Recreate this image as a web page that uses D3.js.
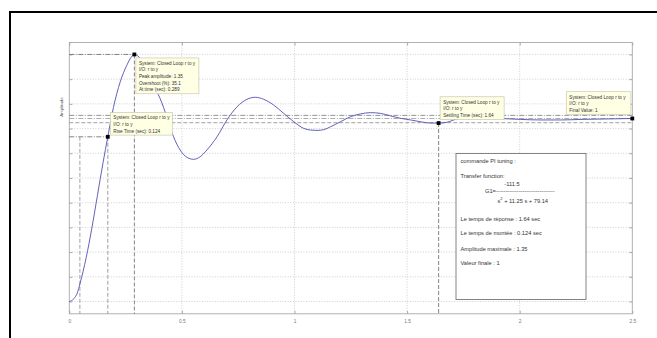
<!DOCTYPE html>
<html>
<head>
<meta charset="utf-8">
<script src="https://cdn.jsdelivr.net/npm/d3@7"></script>
<style>
  html, body { margin: 0; padding: 0; background: #fff; }
  svg { display: block; font-family: "Liberation Sans", Arial, sans-serif; }
</style>
</head>
<body>
<svg id="chart" width="657" height="338"></svg>
<script>
// Closed-loop step response r -> y (PI tuning)
const timeS = [0, 0.02, 0.035, 0.048, 0.075, 0.1, 0.125, 0.15, 0.171, 0.196, 0.226, 0.255, 0.275, 0.289,
  0.31, 0.34, 0.37, 0.403, 0.433, 0.463, 0.492, 0.522, 0.552, 0.581, 0.611, 0.656, 0.7, 0.745, 0.789, 0.826,
  0.863, 0.907, 0.952, 0.996, 1.041, 1.071, 1.1, 1.13, 1.16, 1.204, 1.249, 1.293, 1.338, 1.382, 1.427, 1.471,
  1.516, 1.56, 1.604, 1.64, 1.679, 1.707, 1.747, 1.827, 1.916, 2.005, 2.094, 2.183, 2.272, 2.361, 2.5];
const amplitude = [0, 0.015, 0.045, 0.1, 0.24, 0.4, 0.58, 0.76, 0.9, 1.06, 1.2, 1.29, 1.335, 1.35,
  1.335, 1.27, 1.19, 1.11, 1.01, 0.9, 0.828, 0.788, 0.777, 0.791, 0.828, 0.9, 0.992, 1.064, 1.105, 1.116,
  1.105, 1.074, 1.028, 0.983, 0.946, 0.937, 0.935, 0.939, 0.955, 0.982, 1.01, 1.025, 1.032, 1.028, 1.014, 1.001,
  0.992, 0.982, 0.975, 0.975, 0.98, 0.992, 1.004, 1.003, 1.0, 0.995, 0.992, 0.992, 0.995, 0.997, 1.0];

const xTicks = [0, 0.5, 1, 1.5, 2, 2.5];
const xTickLabels = ["0", "0.5", "1", "1.5", "2", "2.5"];
const yGrid = [0, 0.135, 0.27, 0.405, 0.54, 0.675, 0.81, 0.945, 1.08, 1.215, 1.35];

// response characteristics
const peakT = 0.289, peakY = 1.35;
const riseT10 = 0.047, riseT90 = 0.171, riseY = 0.9;
const settleT = 1.64, settleY = 0.975;
const finalT = 2.5, finalY = 1;
const bandLevels = [1.017, 1.0, 0.977];

const tipPeak = ["System: Closed Loop r to y", "I/O: r to y", "Peak amplitude: 1.35", "Overshoot (%): 35.1", "At time (sec): 0.289"];
const tipRise = ["System: Closed Loop r to y", "I/O: r to y", "Rise Time (sec): 0.124"];
const tipSettle = ["System: Closed Loop r to y", "I/O: r to y", "Settling Time (sec): 1.64"];
const tipFinal = ["System: Closed Loop r to y", "I/O: r to y", "Final Value: 1"];

const svg = d3.select("#chart");

// outer frame
svg.append("path").attr("d", "M10,340 L10,12 L660,12")
  .attr("fill", "none").attr("stroke", "#000").attr("stroke-width", 2);

const x = d3.scaleLinear().domain([0, 2.5]).range([69.3, 632.3]);
const y = d3.scaleLinear().domain([-0.0672, 1.4153]).range([313.8, 42.5]);
const [x0, x1] = x.range();
const [yb, yt] = y.range();

// grid
svg.append("g").selectAll("line").data(yGrid.slice(1)).join("line")
  .attr("x1", x0).attr("x2", x1).attr("y1", d => y(d)).attr("y2", d => y(d))
  .attr("stroke", "#c4c4c4").attr("stroke-width", 0.8).attr("stroke-dasharray", "1,1.6");
svg.append("line").attr("x1", x0).attr("x2", x1).attr("y1", y(0)).attr("y2", y(0))
  .attr("stroke", "#c4c4c4").attr("stroke-width", 0.8).attr("stroke-dasharray", "1,1.6");
svg.append("g").selectAll("line").data(xTicks.slice(1, -1)).join("line")
  .attr("x1", d => x(d)).attr("x2", d => x(d)).attr("y1", yt).attr("y2", yb)
  .attr("stroke", "#c4c4c4").attr("stroke-width", 0.8).attr("stroke-dasharray", "1,1.6");

// axes box
svg.append("rect").attr("x", x0).attr("y", yt).attr("width", x1 - x0).attr("height", yb - yt)
  .attr("fill", "none").attr("stroke", "#a8a8a8").attr("stroke-width", 0.9);

// x axis ticks and labels
const xAxis = d3.axisBottom(x).tickValues(xTicks).tickSize(-3).tickPadding(6)
  .tickFormat((d, i) => xTickLabels[i]);
const gx = svg.append("g").attr("transform", `translate(0,${yb})`).call(xAxis);
gx.select(".domain").remove();
gx.selectAll(".tick line").attr("stroke", "#a8a8a8");
gx.selectAll(".tick text").attr("fill", "#777").attr("font-size", 4.8)
  .attr("font-family", "Liberation Sans, Arial, sans-serif");
const gxt = svg.append("g").attr("transform", `translate(0,${yt})`)
  .call(d3.axisTop(x).tickValues(xTicks).tickSize(-3).tickFormat(""));
gxt.select(".domain").remove();
gxt.selectAll(".tick line").attr("stroke", "#a8a8a8");

// y ticks on both sides (no labels)
const gyl = svg.append("g").attr("transform", `translate(${x0},0)`)
  .call(d3.axisLeft(y).tickValues(yGrid).tickSize(-3).tickFormat(""));
gyl.select(".domain").remove();
gyl.selectAll(".tick line").attr("stroke", "#a8a8a8");
const gyr = svg.append("g").attr("transform", `translate(${x1},0)`)
  .call(d3.axisRight(y).tickValues(yGrid).tickSize(-3).tickFormat(""));
gyr.select(".domain").remove();
gyr.selectAll(".tick line").attr("stroke", "#a8a8a8");

// y label
svg.append("text").attr("transform", `translate(62.5,107) rotate(-90)`)
  .attr("text-anchor", "middle").attr("font-size", 4.4).attr("fill", "#555").text("Amplitude");

// characteristic guide lines
const guide = (x1_, y1_, x2_, y2_, dash, col) => svg.append("line")
  .attr("x1", x1_).attr("y1", y1_).attr("x2", x2_).attr("y2", y2_)
  .attr("stroke", col || "#666").attr("stroke-width", 0.8).attr("stroke-dasharray", dash);
const dashDot = "5,1.5,1,1.5";
const dashed = "4,2";
// settling band / final value
guide(x0, y(bandLevels[0]), x1, y(bandLevels[0]), dashDot, "#777");
guide(x0, y(bandLevels[1]), x1, y(bandLevels[1]), dashDot, "#999");
guide(x0, y(bandLevels[2]), x1, y(bandLevels[2]), dashed, "#888");
// peak
guide(x0, y(peakY), x(peakT), y(peakY), dashDot);
guide(x(peakT), y(peakY), x(peakT), yb, dashed);
// rise
guide(x0, y(riseY), x(riseT90), y(riseY), dashDot);
guide(x(riseT90), y(riseY), x(riseT90), yb, dashed, "#888");
guide(x(riseT10), y(riseY), x(riseT10), yb, dashed, "#888");
// settling
guide(x(settleT), y(settleY), x(settleT), yb, dashed);

// response curve
const line = d3.line().x(d => x(d[0])).y(d => y(d[1])).curve(d3.curveMonotoneX);
svg.append("path").datum(timeS.map((t, i) => [t, amplitude[i]]))
  .attr("d", line).attr("fill", "none").attr("stroke", "#5050b0").attr("stroke-width", 0.9);

// markers
const marks = [[peakT, peakY], [riseT90, riseY], [settleT, settleY], [finalT, finalY]];
svg.append("g").selectAll("rect").data(marks).join("rect")
  .attr("x", d => x(d[0]) - 1.9).attr("y", d => y(d[1]) - 1.9)
  .attr("width", 3.8).attr("height", 3.8).attr("fill", "#000");

// data tips
function tip(lines, bx, by, w) {
  const h = lines.length * 6.6 + 2.8;
  const g = svg.append("g");
  g.append("rect").attr("x", bx).attr("y", by).attr("width", w).attr("height", h)
    .attr("fill", "#ffffe4").attr("stroke", "#c8c8b4").attr("stroke-width", 0.7);
  g.selectAll("text").data(lines).join("text")
    .attr("x", bx + 3).attr("y", (d, i) => by + 6.9 + i * 6.6)
    .attr("font-size", 4.7).attr("fill", "#333").text(d => d);
}
tip(tipPeak, x(peakT) + 1.5, y(peakY) + 3.5, 63);
tip(tipRise, x(riseT90) + 2.5, y(riseY) - 24.3, 62);
tip(tipSettle, x(settleT) + 1.5, y(settleY) - 26.3, 64);
tip(tipFinal, x(finalT) - 66, y(finalY) - 26.8, 64.6);

// PI tuning summary box
const bx = 456, by = 153.5;
svg.append("rect").attr("x", bx).attr("y", by).attr("width", 130).attr("height", 146)
  .attr("fill", "#fff").attr("stroke", "#777").attr("stroke-width", 0.9);
const info = svg.append("g").attr("font-size", 5.7).attr("fill", "#333");
const ln = (tx, ty, s) => info.append("text").attr("x", tx).attr("y", ty).text(s);
ln(bx + 4.5, 162.7, "commande PI tuning :");
ln(bx + 4.5, 178, "Transfer function:");
info.append("text").attr("x", 512).attr("y", 185.7).attr("text-anchor", "middle").text("-111.5");
ln(485, 193.3, "G1=-------------------------------");
const den = info.append("text").attr("x", 497.5).attr("y", 203);
den.append("tspan").text("s");
den.append("tspan").attr("dy", -2.6).attr("font-size", 4).text("2");
den.append("tspan").attr("dy", 2.6).text(" + 11.25 s + 79.14");
ln(bx + 4.5, 220.7, "Le temps de réponse : 1.64 sec");
ln(bx + 4.5, 235.3, "Le temps de montée : 0.124 sec");
ln(bx + 4.5, 250.7, "Amplitude maximale : 1.35");
ln(bx + 4.5, 265.3, "Valeur finale : 1");
</script>
</body>
</html>
